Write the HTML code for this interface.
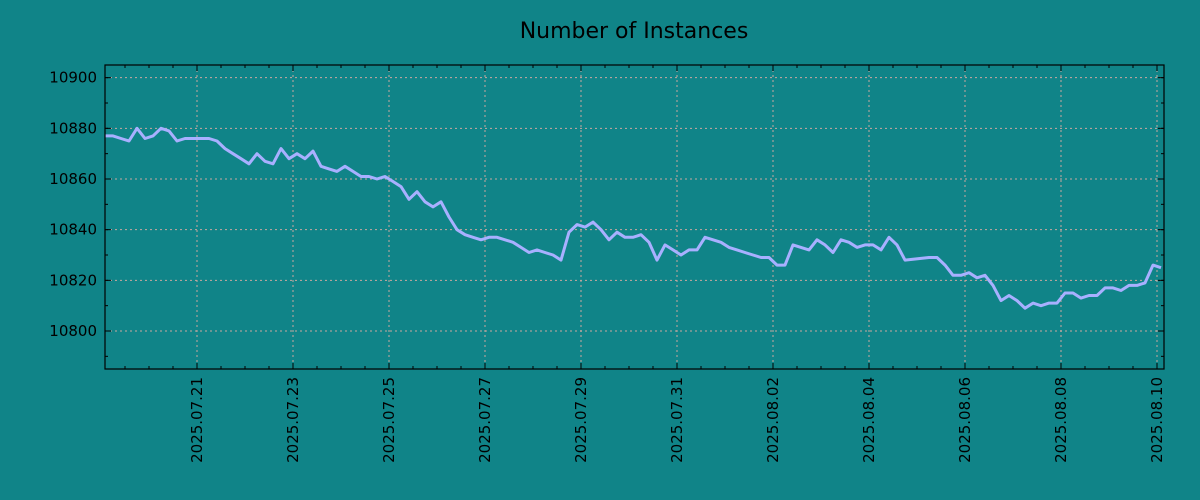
<!DOCTYPE html>
<html><head><meta charset="utf-8"><style>
body{margin:0;background:#108488;}
svg{display:block;font-family:"DejaVu Sans","Liberation Sans",sans-serif;}
</style></head><body>
<svg id="c" width="1200" height="500">
<rect width="1200" height="500" fill="#108488"/>
<text x="634" y="38" text-anchor="middle" font-size="22" fill="#000">Number of Instances</text>
<g id="grid"></g><g id="series"></g><g id="axes"></g>
</svg>
<script>
const hours=[0,4,8,12,16,20,24,28,32,36,40,52,56,60,64,68,72,76,80,84,88,92,96,100,104,108,112,116,120,124,128,132,136,140,144,148,152,156,160,164,168,172,176,180,184,188,192,196,200,204,208,212,216,220,224,228,232,236,240,244,248,252,256,260,264,268,272,276,280,284,288,292,296,300,304,308,312,316,320,324,328,332,336,340,344,348,352,356,360,364,368,372,376,380,384,388,392,396,400,412,416,420,424,428,432,436,440,444,448,452,456,460,464,468,472,476,480,484,488,492,496,500,504,508,512,516,520,524,528];
const values=[10877,10877,10876,10875,10880,10876,10877,10880,10879,10875,10876,10876,10875,10872,10870,10868,10866,10870,10867,10866,10872,10868,10870,10868,10871,10865,10864,10863,10865,10863,10861,10861,10860,10861,10859,10857,10852,10855,10851,10849,10851,10845,10840,10838,10837,10836,10837,10837,10836,10835,10833,10831,10832,10831,10830,10828,10839,10842,10841,10843,10840,10836,10839,10837,10837,10838,10835,10828,10834,10832,10830,10832,10832,10837,10836,10835,10833,10832,10831,10830,10829,10829,10826,10826,10834,10833,10832,10836,10834,10831,10836,10835,10833,10834,10834,10832,10837,10834,10828,10829,10829,10826,10822,10822,10823,10821,10822,10818,10812,10814,10812,10809,10811,10810,10811,10811,10815,10815,10813,10814,10814,10817,10817,10816,10818,10818,10819,10826,10825,10824];
const yTicks=[10800,10820,10840,10860,10880,10900];
const xTickLabels=["2025.07.21","2025.07.23","2025.07.25","2025.07.27","2025.07.29","2025.07.31","2025.08.02","2025.08.04","2025.08.06","2025.08.08","2025.08.10"];
const xTickHours=[46,94,142,190,238,286,334,382,430,478,526];
const L=105,R=1164,T=65,B=369,H0=0,H1=529.5,V0=10785,V1=10905;
const sx=h=>L+(h-H0)/(H1-H0)*(R-L);
const sy=v=>B-(v-V0)/(V1-V0)*(B-T);
const NS="http://www.w3.org/2000/svg";
function mk(p,t,a){const e=document.createElementNS(NS,t);for(const k in a)e.setAttribute(k,a[k]);p.appendChild(e);return e;}
const grid=document.getElementById('grid'),axes=document.getElementById('axes'),ser=document.getElementById('series');
yTicks.forEach(v=>{const y=sy(v);
const g=mk(grid,'line',{x1:L,x2:R,y1:y,y2:y,stroke:'#c8a8a0','stroke-dasharray':'2,3','stroke-width':1});


const t=mk(axes,'text',{x:L-8,y:y+5,'text-anchor':'end','font-size':15,fill:'#000'});t.textContent=v;


mk(axes,'line',{x1:L,x2:L+6,y1:y,y2:y,stroke:'#000'});mk(axes,'line',{x1:R,x2:R-6,y1:y,y2:y,stroke:'#000'});
});
for(let v=10790;v<=10900;v+=10){const y=sy(v);mk(axes,'line',{x1:L,x2:L+3,y1:y,y2:y,stroke:'#000'});mk(axes,'line',{x1:R,x2:R-3,y1:y,y2:y,stroke:'#000'});}
xTickHours.forEach((h,i)=>{const x=sx(h);
const g=mk(grid,'line',{x1:x,x2:x,y1:T,y2:B,stroke:'#c8a8a0','stroke-dasharray':'2,3','stroke-width':1});


mk(axes,'line',{x1:x,x2:x,y1:B,y2:B-6,stroke:'#000'});mk(axes,'line',{x1:x,x2:x,y1:T,y2:T+6,stroke:'#000'});
const t=mk(axes,'text',{x:0,y:0,transform:`translate(${x+5},${B+8}) rotate(-90)`,'text-anchor':'end','font-size':15,fill:'#000'});t.textContent=xTickLabels[i];


});
for(let h=10;h<H1;h+=12){const x=sx(h);mk(axes,'line',{x1:x,x2:x,y1:B,y2:B-3,stroke:'#000'});mk(axes,'line',{x1:x,x2:x,y1:T,y2:T+3,stroke:'#000'});}
const d=hours.map((h,i)=>(i?'L':'M')+sx(h).toFixed(1)+','+sy(values[i]).toFixed(1)).join('');
const p=mk(ser,'path',{d:d,fill:'none',stroke:'#a8b0ff','stroke-width':3,'stroke-linejoin':'round'});


const f=mk(axes,'rect',{x:L,y:T,width:R-L,height:B-T,fill:'none',stroke:'#000','stroke-width':1.2});


</script>
</body></html>
